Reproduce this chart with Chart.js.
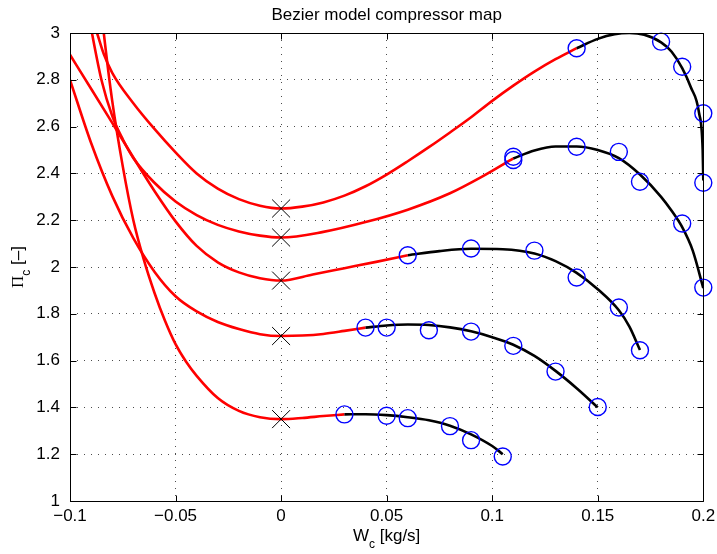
<!DOCTYPE html>
<html>
<head>
<meta charset="utf-8">
<script src="https://cdn.jsdelivr.net/npm/chart.js@4"></script>
<style>
  html, body { margin: 0; padding: 0; background: #fff; }
</style>
</head>
<body>
<canvas id="chart" width="717" height="554"></canvas>
<script>
// axis ticks
const xTicks = [-0.1, -0.05, 0, 0.05, 0.1, 0.15, 0.2];
const xTickLabels = ['\u22120.1', '\u22120.05', '0', '0.05', '0.1', '0.15', '0.2'];
const yTicks = [1, 1.2, 1.4, 1.6, 1.8, 2, 2.2, 2.4, 2.6, 2.8, 3];
const yTickLabels = ['1', '1.2', '1.4', '1.6', '1.8', '2', '2.2', '2.4', '2.6', '2.8', '3'];

// pressure ratio at zero flow (x markers)
const zeroFlowW = [0, 0, 0, 0, 0];
const zeroFlowPi = [1.35, 1.705, 1.942, 2.126, 2.25];

// speed line 1
const ext1 = [[-0.086, 3.17], [-0.084, 3.0], [-0.08, 2.71], [-0.075, 2.43], [-0.07, 2.2], [-0.065, 2.03],
  [-0.06, 1.89], [-0.055, 1.77], [-0.05, 1.67], [-0.045, 1.595], [-0.04, 1.535], [-0.03, 1.44],
  [-0.02, 1.385], [-0.01, 1.358], [0, 1.35], [0.01, 1.355], [0.02, 1.363], [0.03, 1.37]];
const fit1 = [[0.03, 1.37], [0.04, 1.371], [0.05, 1.367], [0.06, 1.358], [0.07, 1.345], [0.08, 1.322],
  [0.09, 1.285], [0.1, 1.235], [0.105, 1.2]];
const meas1 = [[0.03, 1.37], [0.05, 1.364], [0.06, 1.354], [0.08, 1.32], [0.09, 1.26], [0.105, 1.19]];

// speed line 2
const ext2 = [[-0.1, 2.8], [-0.09, 2.53], [-0.08, 2.304], [-0.07, 2.123], [-0.06, 1.98], [-0.05, 1.875],
  [-0.04, 1.81], [-0.03, 1.765], [-0.02, 1.735], [-0.01, 1.713], [0, 1.705], [0.01, 1.707],
  [0.02, 1.714], [0.03, 1.727], [0.04, 1.741]];
const fit2 = [[0.04, 1.741], [0.05, 1.75], [0.06, 1.754], [0.07, 1.752], [0.08, 1.742], [0.09, 1.725],
  [0.1, 1.7], [0.11, 1.668], [0.12, 1.62], [0.13, 1.556], [0.14, 1.482], [0.15, 1.4]];
const meas2 = [[0.04, 1.741], [0.05, 1.741], [0.07, 1.73], [0.09, 1.724], [0.11, 1.663], [0.13, 1.553], [0.15, 1.402]];

// speed line 3
const ext3 = [[-0.1, 2.907], [-0.09, 2.762], [-0.08, 2.616], [-0.07, 2.468], [-0.06, 2.325],
  [-0.05, 2.195], [-0.04, 2.09], [-0.03, 2.02], [-0.02, 1.977], [-0.01, 1.952], [0, 1.942],
  [0.015, 1.968], [0.03, 1.995], [0.045, 2.022], [0.06, 2.05]];
const fit3 = [[0.06, 2.05], [0.075, 2.068], [0.09, 2.078], [0.105, 2.076], [0.12, 2.058], [0.13, 2.025],
  [0.14, 1.975], [0.15, 1.905], [0.16, 1.815], [0.165, 1.745], [0.17, 1.645]];
const meas3 = [[0.06, 2.05], [0.09, 2.079], [0.12, 2.07], [0.14, 1.955], [0.16, 1.827], [0.17, 1.644]];

// speed line 4
const ext4 = [[-0.0915, 3.095], [-0.0896, 3.0], [-0.085, 2.796], [-0.08, 2.646], [-0.075, 2.546],
  [-0.07, 2.466], [-0.06, 2.36], [-0.05, 2.28], [-0.04, 2.222], [-0.03, 2.18], [-0.02, 2.152],
  [-0.01, 2.134], [0, 2.126], [0.02, 2.15], [0.04, 2.192], [0.06, 2.245], [0.08, 2.315],
  [0.095, 2.385], [0.11, 2.464]];
const fit4 = [[0.11, 2.464], [0.12, 2.498], [0.13, 2.515], [0.14, 2.515], [0.15, 2.5], [0.16, 2.465],
  [0.17, 2.395], [0.18, 2.3], [0.185, 2.24], [0.19, 2.17], [0.195, 2.07], [0.2, 1.91]];
const meas4 = [[0.11, 2.471], [0.11, 2.457], [0.14, 2.514], [0.16, 2.492], [0.17, 2.364], [0.19, 2.186], [0.2, 1.912]];

// speed line 5
const ext5 = [[-0.0915, 3.11], [-0.0872, 3.0], [-0.084, 2.91], [-0.08, 2.83], [-0.07, 2.7], [-0.06, 2.59],
  [-0.05, 2.49], [-0.04, 2.4], [-0.03, 2.335], [-0.02, 2.29], [-0.01, 2.262], [0, 2.25],
  [0.01, 2.258], [0.02, 2.276], [0.03, 2.305], [0.04, 2.345], [0.05, 2.395], [0.06, 2.452],
  [0.07, 2.512], [0.08, 2.575], [0.09, 2.64], [0.1, 2.71], [0.11, 2.775], [0.12, 2.835],
  [0.13, 2.888], [0.14, 2.935]];
const fit5 = [[0.14, 2.935], [0.15, 2.975], [0.158, 2.995], [0.165, 3.0], [0.172, 2.992], [0.18, 2.96],
  [0.185, 2.92], [0.19, 2.85], [0.194, 2.77], [0.198, 2.658], [0.1997, 2.5], [0.2, 2.37]];
const meas5 = [[0.14, 2.935], [0.18, 2.963], [0.19, 2.856], [0.2, 2.657], [0.2, 2.36]];

const FONT = "'Liberation Sans', Arial, Helvetica, sans-serif";
const toXY = pairs => pairs.map(([w, p]) => ({x: w, y: p}));

const measured = [meas1, meas2, meas3, meas4, meas5];
const fitted = [fit1, fit2, fit3, fit4, fit5];
const extrap = [ext1, ext2, ext3, ext4, ext5];

// first dataset is painted last (on top)
const datasets = [];
datasets.push({
  data: zeroFlowW.map((w, i) => ({x: w, y: zeroFlowPi[i]})),
  showLine: false, pointStyle: 'crossRot', pointRadius: 12.7, pointBorderWidth: 1,
  borderColor: '#000', backgroundColor: 'transparent', clip: false
});
measured.forEach(m => datasets.push({
  data: toXY(m), showLine: false, pointStyle: 'circle', pointRadius: 8.5,
  pointBorderWidth: 1.4, borderColor: '#0000ff', backgroundColor: 'transparent', clip: false
}));
fitted.forEach(f => datasets.push({
  data: toXY(f), showLine: true, pointRadius: 0, borderColor: '#000', borderWidth: 2.6,
  cubicInterpolationMode: 'monotone'
}));
extrap.forEach(e => datasets.push({
  data: toXY(e), showLine: true, pointRadius: 0, borderColor: '#ff0000', borderWidth: 2.6,
  cubicInterpolationMode: 'monotone'
}));

function drawSub(ctx, main, sub, rest, cx, base, mainFont, subFont, drop) {
  ctx.font = main.font || mainFont;
  const w1 = ctx.measureText(main.text).width;
  ctx.font = mainFont;
  const w3 = ctx.measureText(rest).width;
  ctx.font = subFont;
  const w2 = ctx.measureText(sub).width;
  const x0 = cx - (w1 + w2 + w3) / 2;
  ctx.textAlign = 'left';
  ctx.textBaseline = 'alphabetic';
  ctx.font = main.font || mainFont;
  ctx.fillText(main.text, x0, base);
  ctx.font = subFont;
  ctx.fillText(sub, x0 + w1, base + drop);
  ctx.font = mainFont;
  ctx.fillText(rest, x0 + w1 + w2, base);
}

const decor = {
  id: 'decor',
  afterDraw(chart) {
    const {ctx, chartArea: a, scales: {x, y}} = chart;
    ctx.save();
    ctx.strokeStyle = '#000';
    ctx.lineWidth = 1;
    const L = Math.round(a.left) + 0.5, R = Math.round(a.right) + 0.5;
    const T = Math.round(a.top) + 0.5, B = Math.round(a.bottom) + 0.5;
    ctx.beginPath();
    ctx.rect(L, T, R - L, B - T);
    xTicks.forEach(v => {
      const p = Math.round(x.getPixelForValue(v)) + 0.5;
      ctx.moveTo(p, B); ctx.lineTo(p, B - 6);
      ctx.moveTo(p, T); ctx.lineTo(p, T + 6);
    });
    yTicks.forEach(v => {
      const p = Math.round(y.getPixelForValue(v)) + 0.5;
      ctx.moveTo(L, p); ctx.lineTo(L + 6, p);
      ctx.moveTo(R, p); ctx.lineTo(R - 6, p);
    });
    ctx.stroke();

    ctx.fillStyle = '#000';
    ctx.font = '17px ' + FONT;
    ctx.textAlign = 'center';
    ctx.textBaseline = 'alphabetic';
    ctx.fillText('Bezier model compressor map', (a.left + a.right) / 2, 20);

    drawSub(ctx, {text: 'W'}, 'c', ' [kg/s]', (a.left + a.right) / 2, 541,
      '17px ' + FONT, '12px ' + FONT, 7);

    ctx.translate(23, (a.top + a.bottom) / 2);
    ctx.rotate(-Math.PI / 2);
    drawSub(ctx, {text: '\u03A0', font: "17px 'Liberation Serif', serif"}, 'c', ' [\u2013]', 0, 0,
      '17px ' + FONT, '12px ' + FONT, 7);
    ctx.restore();
  }
};

const gridOpts = {color: 'rgba(0,0,0,0.7)', lineWidth: 1, drawTicks: false, borderDash: [1, 6]};

new Chart(document.getElementById('chart'), {
  type: 'scatter',
  data: {datasets},
  options: {
    responsive: false,
    animation: false,
    devicePixelRatio: 1,
    layout: {padding: {top: 33, right: 13, left: 0, bottom: 0}},
    plugins: {legend: {display: false}, tooltip: {enabled: false}, title: {display: false}},
    scales: {
      x: {
        type: 'linear', min: -0.1, max: 0.2,
        afterBuildTicks: s => { s.ticks = xTicks.map(v => ({value: v})); },
        afterFit: s => { s.height = 53; s.paddingLeft = 0; s.paddingRight = 0; },
        ticks: {callback: (v, i) => xTickLabels[i], color: '#000', padding: 5, maxRotation: 0,
          autoSkip: false, font: {family: FONT, size: 17}},
        grid: gridOpts,
        border: {display: false, dash: [1, 6]}
      },
      y: {
        type: 'linear', min: 1, max: 3,
        afterBuildTicks: s => { s.ticks = yTicks.map(v => ({value: v})); },
        afterFit: s => { s.width = 70; s.paddingTop = 0; s.paddingBottom = 0; },
        ticks: {callback: (v, i) => yTickLabels[i], color: '#000', padding: 10,
          autoSkip: false, font: {family: FONT, size: 17}},
        grid: gridOpts,
        border: {display: false, dash: [1, 6]}
      }
    }
  },
  plugins: [decor]
});
</script>
</body>
</html>
